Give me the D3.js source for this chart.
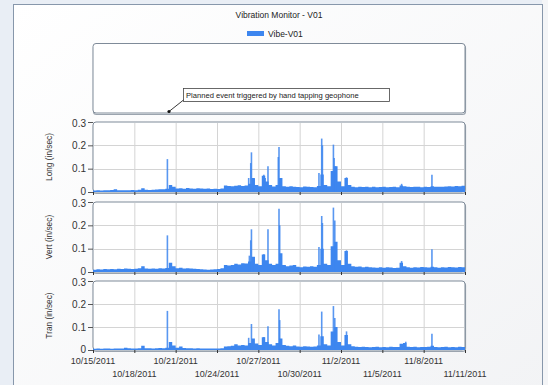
<!DOCTYPE html>
<html>
<head>
<meta charset="utf-8">
<script src="https://cdn.jsdelivr.net/npm/d3@7"></script>
<style>
  body { margin: 0; background: #e9eef5; }
  svg { display: block; font-family: "Liberation Sans", Arial, sans-serif; }
</style>
</head>
<body>
<div id="chart"></div>
<script>
// samples every 6 hours starting 10/15/2011 00:00
const startDate = new Date(2011, 9, 15);
const endDate = new Date(2011, 10, 11);
const tickDates = ["10/15/2011","10/18/2011","10/21/2011","10/24/2011","10/27/2011",
                   "10/30/2011","11/2/2011","11/5/2011","11/8/2011","11/11/2011"];
const yTicks = [0, 0.1, 0.2, 0.3];
const panelNames = ["Long (in/sec)", "Vert (in/sec)", "Tran (in/sec)"];

const longBase = [
  .006,.007,.006,.008, .007,.009,.012,.008, .007,.008,.007,.009, .008,.010,.016,.010,
  .009,.010,.011,.012, .012,.014,.030,.022, .015,.016,.014,.017, .015,.014,.016,.015,
  .014,.015,.013,.014, .013,.015,.028,.026, .025,.027,.029,.026, .028,.035,.060,.030,
  .025,.070,.045,.030, .024,.030,.060,.025, .022,.025,.023,.021, .020,.024,.022,.021,
  .020,.026,.075,.030, .025,.090,.110,.045, .025,.060,.030,.022, .020,.022,.021,.023,
  .020,.022,.020,.021, .022,.020,.021,.022, .020,.028,.025,.022, .021,.023,.022,.020,
  .022,.021,.025,.022, .023,.022,.024,.025, .024,.026,.025,.027, .026];
const vertBase = [
  .010,.012,.011,.013, .012,.013,.012,.014, .013,.015,.014,.013, .014,.016,.025,.015,
  .014,.015,.014,.016, .015,.017,.040,.025, .016,.018,.015,.016, .015,.014,.013,.012,
  .011,.010,.011,.012, .013,.016,.030,.028, .030,.035,.032,.038, .036,.045,.065,.035,
  .030,.075,.050,.035, .030,.035,.080,.030, .025,.028,.030,.022, .020,.024,.022,.025,
  .022,.030,.100,.035, .030,.110,.130,.050, .030,.090,.035,.025, .022,.024,.020,.022,
  .020,.019,.018,.020, .018,.020,.019,.017, .018,.040,.025,.020, .018,.020,.019,.021,
  .020,.019,.022,.020, .018,.020,.019,.021, .020,.019,.021,.020, .020];
const tranBase = [
  .005,.006,.005,.006, .006,.005,.007,.006, .006,.010,.008,.007, .007,.008,.018,.008,
  .008,.007,.008,.009, .008,.010,.035,.020, .010,.015,.009,.008, .008,.007,.008,.007,
  .007,.006,.007,.006, .006,.008,.015,.016, .018,.025,.020,.022, .020,.030,.050,.028,
  .022,.055,.035,.025, .020,.030,.050,.022, .018,.016,.020,.015, .014,.016,.015,.014,
  .015,.020,.060,.025, .020,.080,.100,.035, .020,.065,.025,.016, .014,.013,.014,.013,
  .012,.013,.014,.012, .013,.012,.014,.013, .013,.027,.030,.014, .013,.014,.012,.013,
  .013,.014,.018,.013, .012,.013,.014,.012, .013,.012,.014,.013, .013];

// spikes: [days after start, in/sec]
const longSpikes = [[5.4,.141],[11.3,.06],[11.45,.124],[11.5,.17],[11.7,.056],[12.4,.074],
  [12.5,.06],[12.7,.11],[13.45,.15],[13.5,.193],[16.4,.081],[16.6,.229],[16.65,.2],
  [17.45,.203],[17.5,.146],[17.6,.11],[18.4,.063],[22.4,.035],[24.6,.074]];
const vertSpikes = [[5.4,.157],[11.35,.07],[11.45,.136],[11.5,.183],[11.7,.064],[12.4,.076],
  [12.7,.183],[13.5,.271],[13.55,.2],[16.4,.107],[16.6,.24],[16.65,.21],[17.45,.276],
  [17.55,.221],[18.4,.093],[22.4,.047],[24.6,.097]];
const tranSpikes = [[5.4,.17],[11.3,.053],[11.5,.113],[12.4,.056],[12.7,.103],[13.5,.177],
  [13.55,.13],[16.4,.067],[16.6,.167],[17.45,.191],[17.55,.139],[18.4,.081],[22.7,.036],
  [24.6,.071]];

const baseSeries = [longBase, vertBase, tranBase];
const spikeSeries = [longSpikes, vertSpikes, tranSpikes];

const blue = "#3d86ef";
const width = 548, height = 385;

const svg = d3.select("#chart").append("svg")
  .attr("width", width).attr("height", height);

// outer frame
const grad = svg.append("defs").append("linearGradient")
  .attr("id", "bg").attr("x1", 0).attr("y1", 0).attr("x2", 1).attr("y2", 1);
grad.append("stop").attr("offset", "0%").attr("stop-color", "#ffffff");
grad.append("stop").attr("offset", "100%").attr("stop-color", "#f2f3f5");

svg.append("rect").attr("x", 0).attr("y", 0).attr("width", width).attr("height", height)
  .attr("fill", "#e9eef5");
svg.append("rect").attr("x", 542).attr("y", 0).attr("width", 6).attr("height", height)
  .attr("fill", "#f4f5f7");
svg.append("rect").attr("x", 13.5).attr("y", 4.5).attr("width", 529).attr("height", 400)
  .attr("fill", "url(#bg)").attr("stroke", "#8797ab").attr("stroke-width", 1);

svg.append("text").attr("x", 279).attr("y", 18).attr("text-anchor", "middle")
  .attr("font-size", 8.5).attr("fill", "#222").text("Vibration Monitor - V01");

svg.append("rect").attr("x", 247).attr("y", 31).attr("width", 17).attr("height", 5)
  .attr("fill", blue);
svg.append("text").attr("x", 268).attr("y", 37).attr("font-size", 8.5).attr("fill", "#222")
  .text("Vibe-V01");

const left = 93, right = 465;
const x = d3.scaleTime().domain([startDate, endDate]).range([left, right]);
const parseTick = d3.timeParse("%m/%d/%Y");

function plotBox(y0, y1) {
  svg.append("rect").attr("x", left + 0.5).attr("y", y0 + 1.5)
    .attr("width", right - left).attr("height", y1 - y0)
    .attr("rx", 3).attr("fill", "none").attr("stroke", "#9ba4ae").attr("stroke-width", 1.2);
  svg.append("rect").attr("x", left).attr("y", y0)
    .attr("width", right - left).attr("height", y1 - y0)
    .attr("rx", 3).attr("fill", "#fff").attr("stroke", "#7f8b99").attr("stroke-width", 1);
}

// annotation box above the panels
plotBox(43.5, 113);
svg.append("rect").attr("x", 183.5).attr("y", 88.5).attr("width", 206).attr("height", 13)
  .attr("fill", "#fff").attr("stroke", "#444").attr("stroke-width", 0.8);
svg.append("text").attr("x", 186).attr("y", 98).attr("font-size", 7.6).attr("fill", "#222")
  .text("Planned event triggered by hand tapping geophone");
svg.append("line").attr("x1", 183.5).attr("y1", 100).attr("x2", 169).attr("y2", 111.5)
  .attr("stroke", "#222").attr("stroke-width", 0.9);
svg.append("circle").attr("cx", 169).attr("cy", 111.5).attr("r", 1.6).attr("fill", "#111");

const panels = [[122, 192], [202, 272], [281, 350]];

panels.forEach(([top, bottom], p) => {
  const y = d3.scaleLinear().domain([0, 0.3]).range([bottom, top]);
  plotBox(top, bottom);

  const g = svg.append("g");
  // grid
  g.selectAll(".vg").data(tickDates.slice(1, -1)).enter().append("line")
    .attr("x1", d => x(parseTick(d)) + 0.5).attr("x2", d => x(parseTick(d)) + 0.5)
    .attr("y1", top + 1).attr("y2", bottom)
    .attr("stroke", "#d4d4d4").attr("stroke-width", 1);
  g.selectAll(".hg").data([0.1, 0.2]).enter().append("line")
    .attr("x1", left + 1).attr("x2", right - 1)
    .attr("y1", d => Math.round(y(d)) + 0.5).attr("y2", d => Math.round(y(d)) + 0.5)
    .attr("stroke", "#d4d4d4").attr("stroke-width", 1);

  // baseline area
  const pts = baseSeries[p].map((v, i) => ({ t: d3.timeHour.offset(startDate, i * 6), v }));
  const area = d3.area().x(d => x(d.t)).y0(y(0)).y1(d => y(d.v)).curve(d3.curveStepAfter);
  g.append("path").datum(pts).attr("d", area).attr("fill", blue);

  // spikes
  g.selectAll(".sp").data(spikeSeries[p]).enter().append("line")
    .attr("x1", d => x(d3.timeMinute.offset(startDate, Math.round(d[0] * 1440))))
    .attr("x2", d => x(d3.timeMinute.offset(startDate, Math.round(d[0] * 1440))))
    .attr("y1", y(0)).attr("y2", d => y(d[1]))
    .attr("stroke", blue).attr("stroke-width", 1.6).attr("opacity", 0.85);

  // y axis
  const ya = g.append("g").attr("transform", `translate(${left},0)`)
    .call(d3.axisLeft(y).tickValues(yTicks).tickFormat(d => d === 0 ? "0" : d3.format(".1f")(d))
      .tickSize(5).tickPadding(2));
  ya.select(".domain").remove();
  ya.selectAll("line").attr("stroke", "#555");
  ya.selectAll("text").attr("font-size", 10).attr("fill", "#333")
    .attr("font-family", "'Liberation Sans', Arial, sans-serif")
    .attr("dy", d => d === 0 ? "0.2em" : (d === 0.3 ? "0.4em" : "0.32em"));

  // x ticks
  g.selectAll(".xt").data(tickDates).enter().append("line")
    .attr("x1", d => x(parseTick(d)) + 0.5).attr("x2", d => x(parseTick(d)) + 0.5)
    .attr("y1", bottom).attr("y2", bottom + 3)
    .attr("stroke", "#333").attr("stroke-width", 1);

  g.append("text")
    .attr("transform", `translate(52,${(top + bottom) / 2}) rotate(-90)`)
    .attr("text-anchor", "middle").attr("font-size", 8.3).attr("fill", "#333")
    .text(panelNames[p]);
});

// x labels, staggered in two rows
svg.selectAll(".xl").data(tickDates).enter().append("text")
  .attr("x", d => x(parseTick(d)))
  .attr("y", (d, i) => i % 2 === 0 ? 364 : 377)
  .attr("text-anchor", "middle").attr("font-size", 9).attr("fill", "#333")
  .text(d => d);
</script>
</body>
</html>
